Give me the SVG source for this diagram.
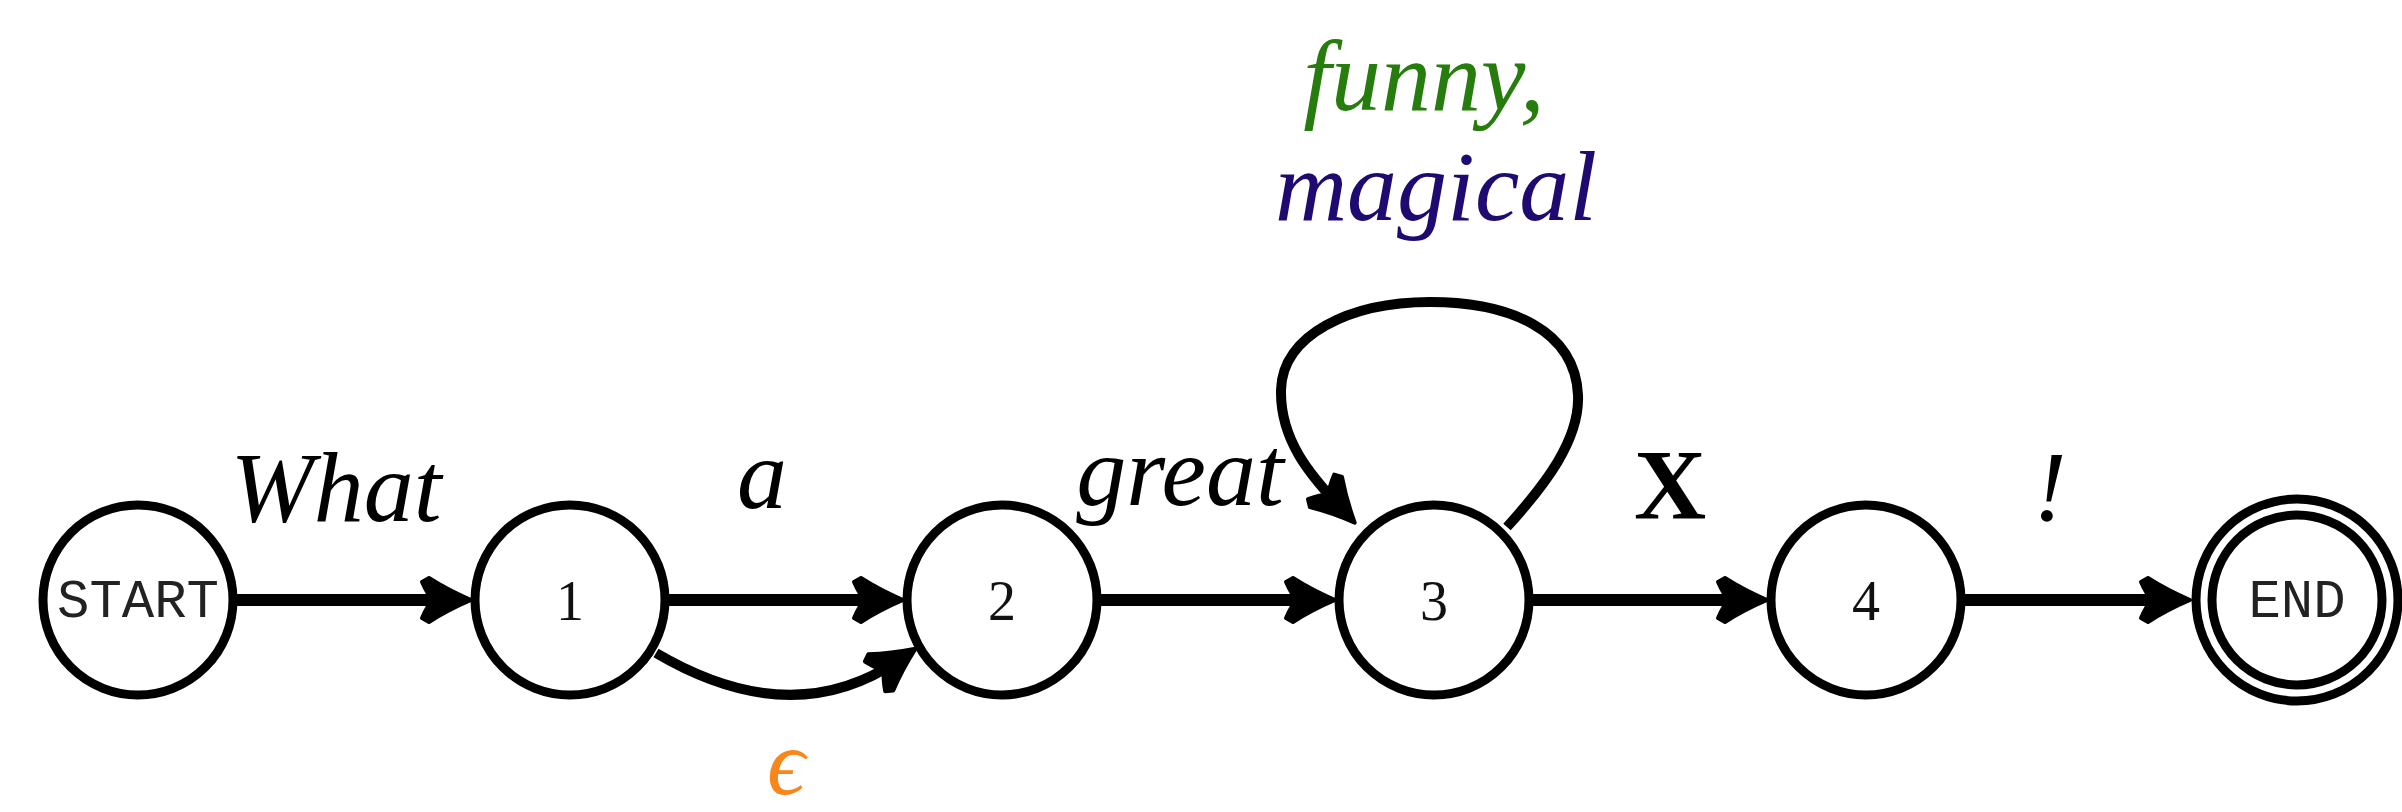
<svg xmlns="http://www.w3.org/2000/svg" width="2402" height="812" viewBox="0 0 2402 812">
<style>
.node{fill:#fff;stroke:#000;stroke-width:9}
.ring{fill:#fff;stroke:#000;stroke-width:9}
.edge{fill:none;stroke:#000;stroke-width:12}
.curve{fill:none;stroke:#000;stroke-width:10}
.mono{font-family:"Liberation Mono",monospace;font-size:54px;fill:#222}
.num{font-family:"Liberation Serif",serif;font-size:56px;fill:#111}
.lbl{font-family:"Liberation Serif",serif;font-style:italic;font-size:100px;fill:#000}
.bold{font-family:"Liberation Serif",serif;font-weight:bold;font-size:100px;fill:#000}
</style>
<defs>
<marker id="arr" markerUnits="userSpaceOnUse" orient="auto" refX="-20" refY="0" markerWidth="60" markerHeight="60" overflow="visible">
<path d="M0,0 C-14,-6 -28,-13 -42,-22 L-49,-18 C-45,-9 -41,-3 -38,0 C-41,3 -45,9 -49,18 L-42,22 C-28,13 -14,6 0,0 Z" fill="#000" stroke="#000" stroke-width="4" stroke-linejoin="round"/>
</marker>
</defs>
<rect width="2402" height="812" fill="#fff"/>
<g id="connectors">
<path class="edge" d="M233,600 H451" marker-end="url(#arr)"/>
<path class="edge" d="M665,600 H883" marker-end="url(#arr)"/>
<path class="curve" d="M656,653 Q792,733 899,660" marker-end="url(#arr)"/>
<path class="edge" d="M1097,600 H1315" marker-end="url(#arr)"/>
<path class="curve" d="M1507,527 C1545,485 1580,440 1578,395 C1575,330 1510,302 1430,302 C1350,302 1282,335 1281,390 C1280,440 1310,475 1341,508" marker-end="url(#arr)"/>
<path class="edge" d="M1529,600 H1747" marker-end="url(#arr)"/>
<path class="edge" d="M1961,600 H2170" marker-end="url(#arr)"/>
<text class="lbl" x="336" y="521" text-anchor="middle">What</text>
<text class="lbl" x="762" y="508" text-anchor="middle">a</text>
<text class="lbl" x="786" y="794" text-anchor="middle" style="fill:#f7871c;font-size:94px">ϵ</text>
<text class="lbl" x="1180" y="505" text-anchor="middle">great</text>
<text class="lbl" x="1424" y="110" text-anchor="middle" style="fill:#267c0c">funny,</text>
<text class="lbl" x="1436" y="220" text-anchor="middle" style="fill:#1e0a70">magical</text>
<text class="bold" x="1670" y="518" text-anchor="middle">X</text>
<text class="lbl" x="2050" y="520" text-anchor="middle">!</text>
</g>
<g id="node-start">
<circle class="node" cx="138" cy="600" r="95"/>
<text class="mono" x="138" y="617" text-anchor="middle">START</text>
</g>
<g id="node-1">
<circle class="node" cx="570" cy="600" r="95"/>
<text class="num" x="570" y="620" text-anchor="middle">1</text>
</g>
<g id="node-2">
<circle class="node" cx="1002" cy="600" r="95"/>
<text class="num" x="1002" y="620" text-anchor="middle">2</text>
</g>
<g id="node-3">
<circle class="node" cx="1434" cy="600" r="95"/>
<text class="num" x="1434" y="620" text-anchor="middle">3</text>
</g>
<g id="node-4">
<circle class="node" cx="1866" cy="600" r="95"/>
<text class="num" x="1866" y="620" text-anchor="middle">4</text>
</g>
<g id="node-end">
<circle class="ring" cx="2297" cy="600" r="101"/>
<circle class="ring" cx="2297" cy="600" r="85"/>
<text class="mono" x="2297" y="617" text-anchor="middle">END</text>
</g>
</svg>
